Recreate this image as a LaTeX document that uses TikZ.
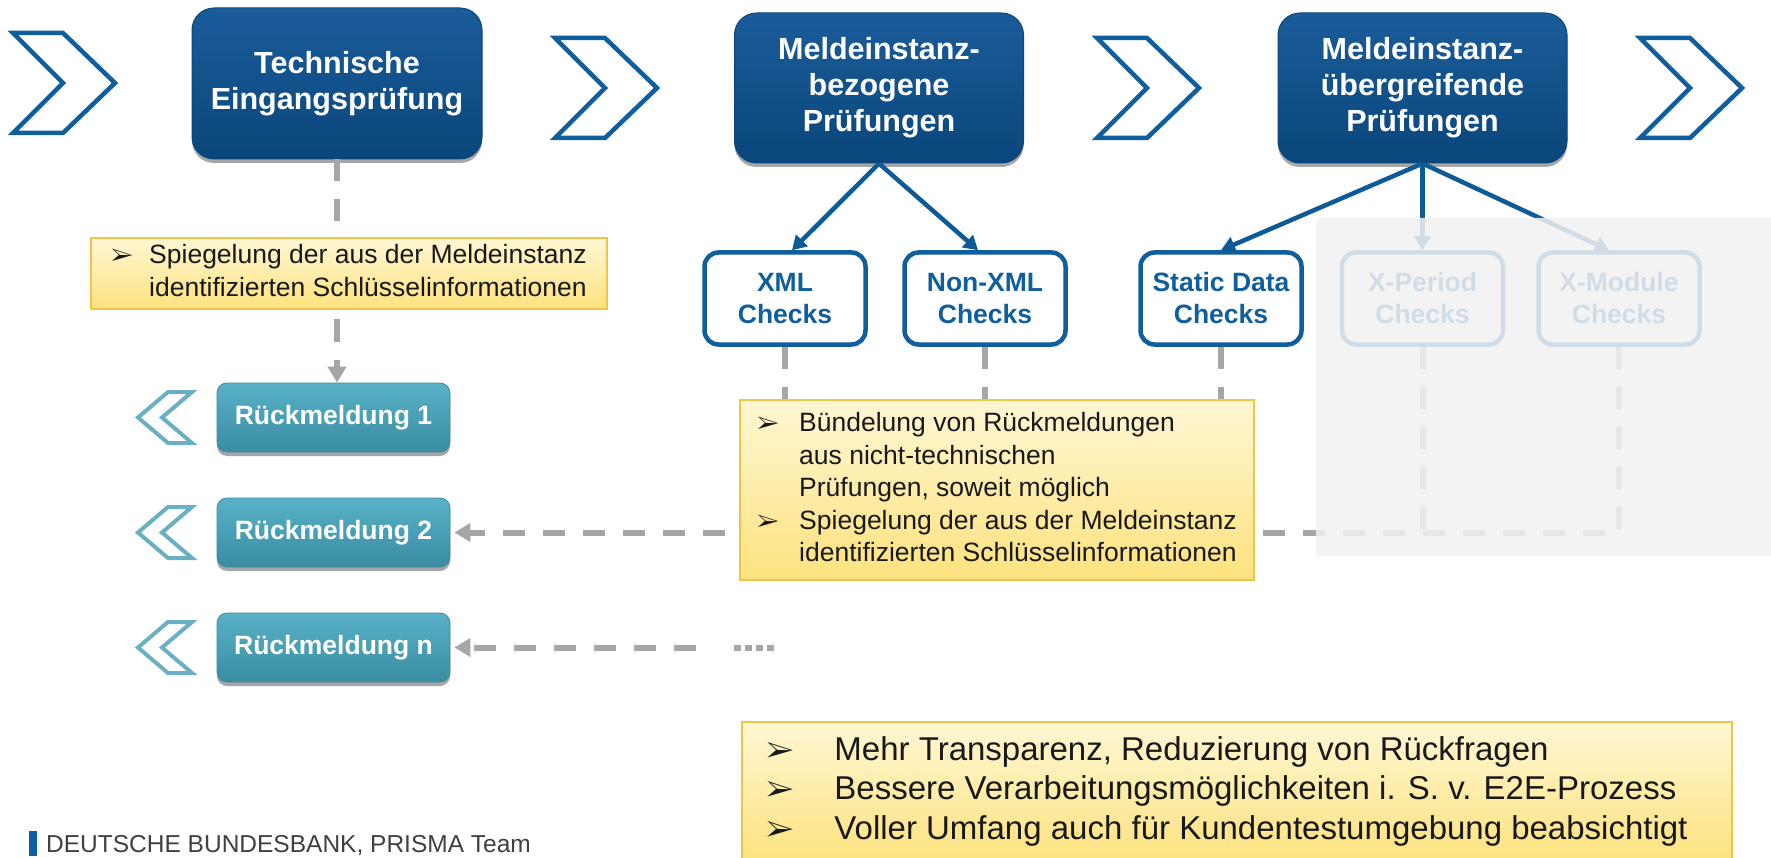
\documentclass[tikz,border=0pt]{standalone}
\usepackage{fontspec}
\setmainfont{Liberation Sans}
\usepackage{pifont}
\usetikzlibrary{arrows.meta,shadows}
\definecolor{dblue}{HTML}{0E5A96}
\definecolor{boxtop}{HTML}{1A5C9A}
\definecolor{boxbot}{HTML}{0A467B}
\definecolor{chk}{HTML}{0F5E9E}
\definecolor{grayline}{HTML}{A6A6A6}
\definecolor{tealtop}{HTML}{58B2C7}
\definecolor{tealbot}{HTML}{3A8CA2}
\definecolor{tealchev}{HTML}{6AB0C2}
\definecolor{yeltop}{HTML}{FFF7D4}
\definecolor{yelbot}{HTML}{FDE27E}
\definecolor{yelborder}{HTML}{F0C446}
\definecolor{panelgray}{HTML}{F2F2F2}
\definecolor{foot}{HTML}{404040}
\definecolor{footbar}{HTML}{0A5FA8}
\newcommand{\bul}{\scalebox{0.9}{\ding{226}}}
\newcommand{\mychevron}[2]{\draw[chevron] (#1,#2) -- ++(50,0) -- ++(52,50) -- ++(-52,50) -- ++(-50,0) -- ++(50,-50) -- cycle;}
\newcommand{\mydchev}[1]{%
  \begin{scope}[shift={(0,#1)}]
    \draw[dchev] (192,-25.5) -- (168,-25.5) -- (138,0) -- (168,25.5) -- (192,25.5) -- (162,0) -- cycle;
  \end{scope}}
\tikzset{
  stage/.style={rounded corners=22pt, top color=boxtop, bottom color=boxbot, draw=boxbot, line width=1pt,
    minimum width=289pt, minimum height=150pt, align=center, text=white,
    font=\bfseries\fontsize{30.5}{36}\selectfont, inner sep=0pt,
    drop shadow={shadow xshift=0pt, shadow yshift=-4pt, opacity=0.35, fill=black}},
  chkbox/.style={rounded corners=14pt, draw=chk, line width=4.5pt, fill=white,
    minimum width=161pt, minimum height=92pt, align=center, text=chk,
    font=\bfseries\fontsize{26.5}{32}\selectfont, inner sep=0pt},
  rueck/.style={rounded corners=10pt, top color=tealtop, bottom color=tealbot, draw=tealbot, line width=0.8pt,
    minimum width=233pt, minimum height=69pt, text=white,
    font=\bfseries\fontsize{26.5}{30}\selectfont, inner sep=0pt,
    drop shadow={shadow xshift=0pt, shadow yshift=-4pt, opacity=0.35, fill=black}},
  note/.style={top color=yeltop, bottom color=yelbot, draw=yelborder, line width=1.5pt, inner sep=0pt,
    text=black!90},
  chevron/.style={draw=chk, line width=4.5pt, fill=white, line join=miter},
  dchev/.style={draw=tealchev, line width=4pt, fill=white, line join=miter},
  gdash/.style={draw=grayline, line width=6pt, dash pattern=on 22pt off 18pt},
  gtip/.style={-{Triangle[length=16pt,width=18pt]}},
  barrow/.style={draw=dblue, line width=4.5pt, -{Triangle[length=14pt,width=16pt]}},
}
\begin{document}
\begin{tikzpicture}[x=1pt,y=-1pt]
\useasboundingbox (0,0) rectangle (1771,858);
\clip (0,0) rectangle (1771,858);
\fill[white] (0,0) rectangle (1771,858);

% chevrons
\mychevron{13}{33}
\mychevron{555}{38}
\mychevron{1097}{38}
\mychevron{1640}{38}

% stage boxes
\node[stage, minimum width=290pt, minimum height=151pt] (b1) at (337,83.5) {Technische\\Eingangsprüfung};
\node[stage] (b2) at (879,88) {Meldeinstanz-\\bezogene\\Prüfungen};
\node[stage] (b3) at (1422.5,88) {Meldeinstanz-\\übergreifende\\Prüfungen};

% check boxes
\node[chkbox] (xml) at (785,298.5) {XML\\Checks};
\node[chkbox] (nonxml) at (985,298.5) {Non-XML\\Checks};
\node[chkbox] (stat) at (1221,298.5) {Static Data\\Checks};
\node[chkbox] (xper) at (1422.5,298.5) {X-Period\\Checks};
\node[chkbox] (xmod) at (1619,298.5) {X-Module\\Checks};

% feedback boxes
\node[rueck] (r1) at (333.5,417.5) {Rückmeldung 1};
\node[rueck] (r2) at (333.5,532.5) {Rückmeldung 2};
\node[rueck] (rn) at (333.5,647.5) {Rückmeldung n};
\mydchev{417.5}
\mydchev{532.5}
\mydchev{647.5}

% gray dashed connectors
\draw[gdash, gtip] (b1.south) -- (b1.south |- r1.north);
\foreach \n in {xml,nonxml,stat,xper}
  \draw[gdash] (\n.south) -- (\n.south |- r2.east);
\draw[gdash, gtip, shorten >=4pt] (xmod.south) -- (xmod.south |- r2.east) -- (r2.east);
\coordinate (rnend) at (696,647.5);
\draw[gdash, gtip, shorten >=4pt] (rnend) -- (rn.east);
\coordinate (dotsa) at (734,647.5);
\coordinate (dotsb) at (776,647.5);
\draw[draw=grayline, line width=6pt, dash pattern=on 7pt off 4pt] (dotsa) -- (dotsb);

% blue arrows
\draw[barrow] (b2.south) -- ([xshift=7pt]xml.north);
\draw[barrow] (b2.south) -- ([xshift=-7pt]nonxml.north);
\draw[barrow] (b3.south) -- (stat.north);
\draw[barrow] (b3.south) -- (xper.north);
\draw[barrow] (b3.south) -- ([xshift=-10pt]xmod.north);

% yellow notes
\node[note, minimum width=516pt, minimum height=71pt] (n1) at (349,273.5) {%
  \fontsize{26.5}{32.5}\selectfont
  \begin{tabular}{@{}p{38pt}@{}l@{}}
  \bul & Spiegelung der aus der Meldeinstanz\\
       & identifizierten Schlüsselinformationen
  \end{tabular}};
\node[note, minimum width=514pt, minimum height=180pt] (n2) at (997,490) {%
  \fontsize{26.5}{32.5}\selectfont
  \begin{tabular}{@{}p{42pt}@{}l@{}}
  \bul & Bündelung von Rückmeldungen\\
       & aus nicht-technischen\\
       & Prüfungen, soweit möglich\\
  \bul & Spiegelung der aus der Meldeinstanz\\
       & identifizierten Schlüsselinformationen
  \end{tabular}};
\node[note, minimum width=990pt, minimum height=140pt] (n3) at (1237,792) {%
  \fontsize{33}{39.5}\selectfont
  \begin{tabular}{@{}p{68pt}@{}l@{\hspace{20pt}}}
  \bul & Mehr Transparenz, Reduzierung von Rückfragen\\
  \bul & Bessere Verarbeitungsmöglichkeiten i. S. v. E2E-Prozess\\
  \bul & Voller Umfang auch für Kundentestumgebung beabsichtigt
  \end{tabular}};

% faded panel
\fill[panelgray, opacity=0.86, rounded corners=3pt] (1316,218) rectangle (1800,556);

% footer
\fill[footbar] (29,831) rectangle (37,856);
\node[anchor=base west, text=foot, font=\fontsize{24.5}{28}\selectfont, inner sep=0pt] (footer) at (46,852) {DEUTSCHE BUNDESBANK, PRISMA Team};
\end{tikzpicture}
\end{document}
